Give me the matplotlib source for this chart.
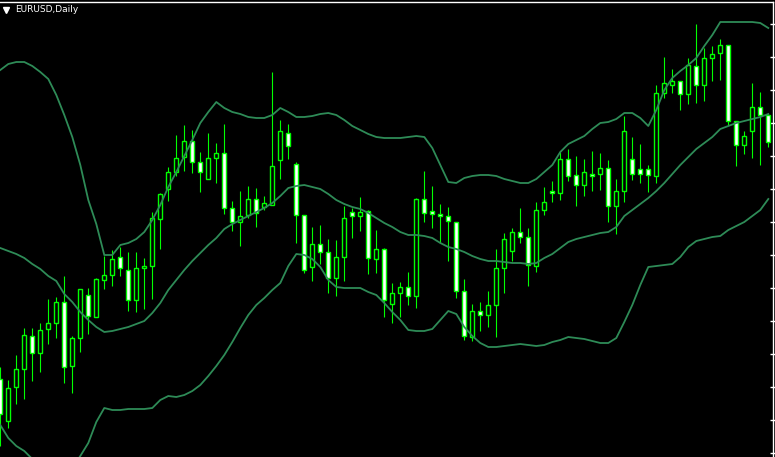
import numpy as np
import matplotlib
matplotlib.use("Agg")
import matplotlib.pyplot as plt
from matplotlib.lines import Line2D

# EURUSD daily candles (oldest -> newest)
opens = [1.3621, 1.3579, 1.3613, 1.3631, 1.3664, 1.3647, 1.3671, 1.3677, 1.3698, 1.3634,
         1.3662, 1.3705, 1.3683, 1.3720, 1.3725, 1.3743, 1.3730, 1.3700, 1.3732, 1.3734,
         1.3781, 1.3811, 1.3828, 1.3843, 1.3859, 1.3838, 1.3821, 1.3842, 1.3847, 1.3792,
         1.3778, 1.3785, 1.3801, 1.3793, 1.3795, 1.3840, 1.3867, 1.3836, 1.3785, 1.3733,
         1.3756, 1.3748, 1.3722, 1.3743, 1.3788, 1.3784, 1.3789, 1.3741, 1.3751, 1.3696,
         1.3707, 1.3713, 1.3704, 1.3801, 1.3789, 1.3786, 1.3784, 1.3778, 1.3709, 1.3663,
         1.3689, 1.3685, 1.3695, 1.3732, 1.3749, 1.3768, 1.3763, 1.3734, 1.3790, 1.3809,
         1.3807, 1.3841, 1.3825, 1.3815, 1.3826, 1.3826, 1.3832, 1.3794, 1.3809, 1.3841,
         1.3831, 1.3831, 1.3824, 1.3907, 1.3915, 1.3919, 1.3906, 1.3934, 1.3915, 1.3942,
         1.3947, 1.3955, 1.3879, 1.3855, 1.3869, 1.3893, 1.3885]

closes = [1.3586, 1.3612, 1.3631, 1.3665, 1.3647, 1.3670, 1.3677, 1.3698, 1.3633, 1.3662,
          1.3711, 1.3684, 1.3721, 1.3725, 1.3741, 1.3732, 1.3700, 1.3732, 1.3734, 1.3782,
          1.3806, 1.3828, 1.3842, 1.3859, 1.3838, 1.3828, 1.3842, 1.3847, 1.3792, 1.3778,
          1.3784, 1.3801, 1.3787, 1.3797, 1.3834, 1.3869, 1.3854, 1.3785, 1.3730, 1.3756,
          1.3748, 1.3722, 1.3743, 1.3782, 1.3784, 1.3788, 1.3742, 1.3751, 1.3700, 1.3707,
          1.3713, 1.3704, 1.3801, 1.3787, 1.3786, 1.3784, 1.3779, 1.3709, 1.3664, 1.3689,
          1.3685, 1.3695, 1.3732, 1.3761, 1.3768, 1.3763, 1.3735, 1.3790, 1.3798, 1.3807,
          1.3841, 1.3824, 1.3815, 1.3828, 1.3824, 1.3832, 1.3794, 1.3809, 1.3869, 1.3826,
          1.3826, 1.3825, 1.3907, 1.3917, 1.3919, 1.3906, 1.3935, 1.3915, 1.3942, 1.3946,
          1.3955, 1.3879, 1.3855, 1.3864, 1.3893, 1.3885, 1.3858]

highs = [1.3633, 1.3620, 1.3645, 1.3672, 1.3672, 1.3677, 1.3701, 1.3703, 1.3724, 1.3664,
         1.3711, 1.3712, 1.3722, 1.3744, 1.3750, 1.3753, 1.3748, 1.3748, 1.3742, 1.3788,
         1.3807, 1.3833, 1.3865, 1.3875, 1.3870, 1.3848, 1.3867, 1.3857, 1.3876, 1.3799,
         1.3809, 1.3814, 1.3812, 1.3804, 1.3928, 1.3880, 1.3876, 1.3838, 1.3785, 1.3773,
         1.3775, 1.3761, 1.3760, 1.3794, 1.3792, 1.3803, 1.3790, 1.3770, 1.3752, 1.3717,
         1.3718, 1.3728, 1.3802, 1.3829, 1.3814, 1.3796, 1.3793, 1.3778, 1.3721, 1.3696,
         1.3698, 1.3709, 1.3751, 1.3767, 1.3772, 1.3792, 1.3772, 1.3798, 1.3813, 1.3819,
         1.3848, 1.3851, 1.3844, 1.3841, 1.3849, 1.3847, 1.3840, 1.3821, 1.3884, 1.3863,
         1.3856, 1.3835, 1.3915, 1.3943, 1.3931, 1.3919, 1.3942, 1.3976, 1.3952, 1.3954,
         1.3961, 1.3955, 1.3879, 1.3869, 1.3917, 1.3908, 1.3885]

lows = [1.3554, 1.3572, 1.3596, 1.3601, 1.3619, 1.3628, 1.3656, 1.3662, 1.3617, 1.3607,
        1.3648, 1.3666, 1.3683, 1.3711, 1.3714, 1.3724, 1.3689, 1.3688, 1.3691, 1.3701,
        1.3751, 1.3799, 1.3824, 1.3829, 1.3827, 1.3808, 1.3821, 1.3817, 1.3786, 1.3769,
        1.3754, 1.3782, 1.3773, 1.3790, 1.3795, 1.3821, 1.3841, 1.3757, 1.3727, 1.3719,
        1.3736, 1.3707, 1.3704, 1.3719, 1.3762, 1.3769, 1.3726, 1.3727, 1.3683, 1.3677,
        1.3683, 1.3695, 1.3692, 1.3778, 1.3772, 1.3757, 1.3739, 1.3702, 1.3660, 1.3659,
        1.3669, 1.3673, 1.3663, 1.3707, 1.3739, 1.3757, 1.3714, 1.3728, 1.3785, 1.3798,
        1.3800, 1.3819, 1.3794, 1.3804, 1.3809, 1.3810, 1.3778, 1.3766, 1.3798, 1.3820,
        1.3817, 1.3808, 1.3817, 1.3902, 1.3907, 1.3890, 1.3896, 1.3897, 1.3899, 1.3919,
        1.3920, 1.3875, 1.3834, 1.3846, 1.3842, 1.3835, 1.3853]

# Bollinger bands
upper_band = [1.3930, 1.3936, 1.3938, 1.3938, 1.3934, 1.3928, 1.3921, 1.3905, 1.3885, 1.3863,
              1.3835, 1.3800, 1.3776, 1.3745, 1.3745, 1.3755, 1.3757, 1.3761, 1.3768, 1.3780,
              1.3795, 1.3813, 1.3828, 1.3844, 1.3860, 1.3877, 1.3888, 1.3898, 1.3892, 1.3888,
              1.3886, 1.3883, 1.3882, 1.3882, 1.3885, 1.3892, 1.3888, 1.3883, 1.3883, 1.3884,
              1.3886, 1.3887, 1.3885, 1.3880, 1.3874, 1.3870, 1.3866, 1.3863, 1.3862, 1.3862,
              1.3862, 1.3863, 1.3864, 1.3863, 1.3852, 1.3835, 1.3818, 1.3817, 1.3822, 1.3824,
              1.3825, 1.3825, 1.3824, 1.3821, 1.3819, 1.3817, 1.3817, 1.3821, 1.3828, 1.3835,
              1.3848, 1.3856, 1.3860, 1.3864, 1.3871, 1.3877, 1.3878, 1.3881, 1.3887, 1.3887,
              1.3882, 1.3874, 1.3890, 1.3910, 1.3922, 1.3929, 1.3935, 1.3942, 1.3954, 1.3965,
              1.3978, 1.3978, 1.3978, 1.3978, 1.3978, 1.3977, 1.3972]

middle_band = [1.3752, 1.3749, 1.3746, 1.3742, 1.3736, 1.3731, 1.3724, 1.3719, 1.3706, 1.3698,
               1.3688, 1.3680, 1.3673, 1.3668, 1.3669, 1.3671, 1.3673, 1.3676, 1.3679, 1.3687,
               1.3697, 1.3710, 1.3720, 1.3730, 1.3739, 1.3747, 1.3755, 1.3762, 1.3771, 1.3776,
               1.3780, 1.3784, 1.3788, 1.3792, 1.3797, 1.3804, 1.3812, 1.3814, 1.3815, 1.3813,
               1.3811, 1.3806, 1.3800, 1.3796, 1.3793, 1.3791, 1.3787, 1.3782, 1.3777, 1.3773,
               1.3768, 1.3765, 1.3765, 1.3764, 1.3762, 1.3757, 1.3753, 1.3751, 1.3748, 1.3744,
               1.3741, 1.3739, 1.3739, 1.3738, 1.3737, 1.3737, 1.3736, 1.3737, 1.3742, 1.3746,
               1.3752, 1.3758, 1.3761, 1.3763, 1.3765, 1.3767, 1.3768, 1.3773, 1.3784, 1.3790,
               1.3796, 1.3802, 1.3809, 1.3817, 1.3826, 1.3835, 1.3843, 1.3851, 1.3857, 1.3863,
               1.3871, 1.3874, 1.3877, 1.3879, 1.3881, 1.3883, 1.3886]

lower_band = [1.3575, 1.3562, 1.3554, 1.3549, 1.3541, 1.3532, 1.3525, 1.3520, 1.3522, 1.3532,
              1.3544, 1.3557, 1.3578, 1.3592, 1.3590, 1.3590, 1.3591, 1.3591, 1.3591, 1.3592,
              1.3600, 1.3604, 1.3603, 1.3605, 1.3609, 1.3615, 1.3624, 1.3634, 1.3645, 1.3658,
              1.3672, 1.3685, 1.3695, 1.3702, 1.3710, 1.3717, 1.3734, 1.3746, 1.3745, 1.3741,
              1.3733, 1.3720, 1.3713, 1.3712, 1.3712, 1.3712, 1.3708, 1.3705, 1.3697, 1.3688,
              1.3680, 1.3670, 1.3669, 1.3669, 1.3671, 1.3680, 1.3689, 1.3686, 1.3673, 1.3664,
              1.3657, 1.3653, 1.3653, 1.3654, 1.3655, 1.3656, 1.3655, 1.3654, 1.3655, 1.3658,
              1.3660, 1.3663, 1.3662, 1.3661, 1.3659, 1.3657, 1.3657, 1.3662, 1.3678, 1.3695,
              1.3715, 1.3733, 1.3734, 1.3735, 1.3736, 1.3743, 1.3753, 1.3759, 1.3761, 1.3763,
              1.3764, 1.3770, 1.3774, 1.3778, 1.3784, 1.3790, 1.3801]

o = np.array(opens)
c = np.array(closes)
h = np.array(highs)
l = np.array(lows)
x = np.arange(len(o))

LIME = "#00ff00"
BAND = "#2e8b57"

W, H = 775, 457
fig = plt.figure(figsize=(W / 100, H / 100), dpi=100, facecolor="black")
# plot area ends at the price scale (x=773) and just below the top frame line
ax = fig.add_axes([0, 0, 773 / W, 455.5 / H])
ax.set_facecolor("black")

# wicks
ax.vlines(x, l, h, color=LIME, linewidth=0.8, zorder=2)

# bodies: bull = black, bear = white (MT4 green-on-black scheme)
bottom = np.minimum(o, c)
height = np.maximum(np.abs(c - o), 0.00003)
fill = np.where(c >= o, "black", "white")
ax.bar(x, height, bottom=bottom, width=0.5, color=fill, edgecolor=LIME,
       linewidth=1.0, zorder=3)

# Bollinger bands
for band in (upper_band, middle_band, lower_band):
    ax.plot(x, band, color=BAND, linewidth=1.3, zorder=4)

# 8 px per bar, first bar centred at x=0.3 px
ax.set_xlim(-0.0375, -0.0375 + 773 / 8)
ax.set_ylim(1.3543, 1.39985)

# frame: top + right lines only
for side in ("left", "bottom"):
    ax.spines[side].set_visible(False)
for side in ("top", "right"):
    ax.spines[side].set_color("white")
    ax.spines[side].set_linewidth(1.0)

ax.set_xticks([])
ax.yaxis.tick_right()
ax.set_yticks(1.3976 - 0.0033 * np.arange(14))
ax.tick_params(axis="y", direction="inout", length=4, width=1, color="white",
               labelright=False)

# symbol label in the corner
fig.add_artist(Line2D([6 / W], [1 - 10 / H], marker="v", markersize=4.5,
                      color="white", transform=fig.transFigure))
fig.text(15 / W, 1 - 10 / H, "EURUSD,Daily", color="white", fontsize=6.5,
         va="center", ha="left")

fig.savefig("out.png", dpi=100, facecolor="black")
